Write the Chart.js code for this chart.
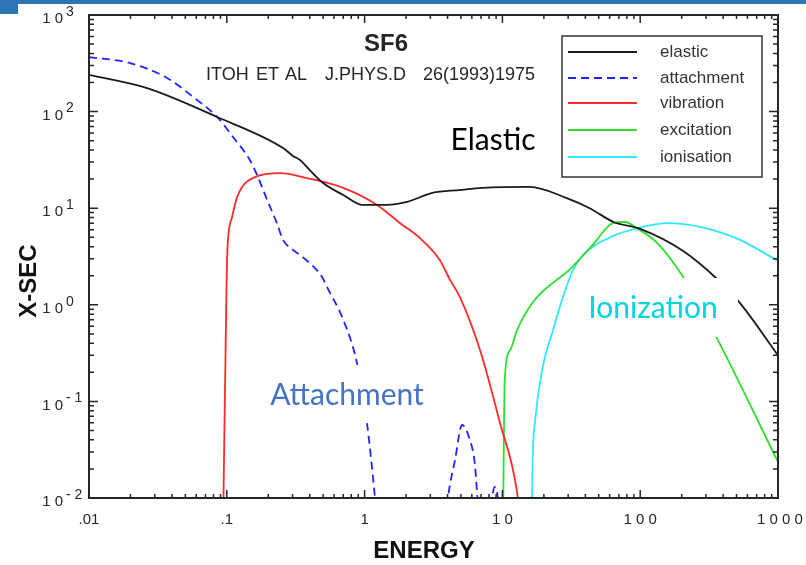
<!DOCTYPE html>
<html>
<head>
<meta charset="utf-8">
<script src="https://cdn.jsdelivr.net/npm/chart.js@4.4.1/dist/chart.umd.min.js"></script>
<style>
html, body { margin: 0; padding: 0; background: #fff; overflow: hidden; }
#wrap { position: relative; width: 806px; height: 565px; }
.bar { position: absolute; background: #2e75b6; }
</style>
</head>
<body>
<div id="wrap">
  <canvas id="c" width="806" height="565"></canvas>
  <div class="bar" style="left:0;top:0;width:806px;height:4px"></div>
  <div class="bar" style="left:0;top:0;width:18px;height:14px"></div>
</div>
<script>
// energies (eV) and cross sections
const elasticE = [0.01, 0.0264, 0.085, 0.256, 0.30, 0.34, 0.40, 0.50, 0.70, 0.97, 1.45, 2.03, 3.1, 4.9, 7.2, 15.8, 29, 43, 64, 100, 205, 361, 530, 1000];
const elasticS = [240, 175, 88, 42, 35, 31.5, 24.8, 18.2, 13.7, 10.8, 10.8, 11.6, 14.4, 15.4, 16.2, 16.6, 12.8, 10.0, 7.2, 6.1, 3.6, 1.85, 1.04, 0.30];

const attachE = [0.01, 0.0199, 0.0368, 0.0569, 0.085, 0.111, 0.147, 0.166, 0.196, 0.231, 0.256, 0.302, 0.357, 0.491, 0.533, 0.70, 0.88, 1.04, 1.19, 1.23, 2.0, 3.9, 4.03, 4.53, 5.1, 5.8, 6.3, 6.6, 6.8, 7.8, 8.2, 8.4, 8.8, 9.3, 9.5];
const attachS = [367, 318, 223, 142, 88, 54.6, 31.5, 22, 12.2, 7.0, 4.7, 3.7, 3.1, 1.94, 1.53, 0.70, 0.25, 0.060, 0.01, 0.006, null, 0.006, 0.01, 0.0247, 0.057, 0.040, 0.023, 0.01, 0.007, null, 0.006, 0.0095, 0.013, 0.0095, 0.006];

const vibE = [0.094, 0.0995, 0.101, 0.109, 0.12, 0.16, 0.244, 0.382, 0.70, 1.23, 1.81, 2.52, 3.52, 4.17, 4.92, 6.88, 9.6, 12.8, 13.4];
const vibS = [0.005, 1.5, 3.7, 8.0, 13.5, 21, 23.1, 20.5, 16.2, 10.8, 7.0, 4.9, 2.9, 1.81, 1.2, 0.34, 0.060, 0.0113, 0.006];

const excE = [10.1, 10.4, 11.4, 12.8, 16.7, 31.5, 45.4, 63.5, 77.6, 94.8, 132, 205, 361, 1000];
const excS = [0.005, 0.167, 0.34, 0.55, 1.07, 2.4, 4.2, 7.0, 7.2, 6.2, 4.4, 1.94, 0.45, 0.0236];

const ionE = [16.3, 16.6, 17.3, 19.4, 23.3, 27.5, 32.5, 38.5, 63.5, 94.8, 159, 272, 530, 1000];
const ionS = [0.005, 0.0265, 0.064, 0.211, 0.55, 1.2, 2.29, 3.28, 5.15, 6.2, 7.0, 6.4, 4.7, 2.84];

const seriesNames = ['elastic', 'attachment', 'vibration', 'excitation', 'ionisation'];
const seriesColors = ['#1a1a1a', '#2222ff', '#ff2a2a', '#2ee02e', '#2ee8ff'];

const xTickValues = [0.01, 0.1, 1, 10, 100, 1000];
const xTickLabels = ['.01', '.1', '1', '1 0', '1 0 0', '1 0 0 0'];
const yTickValues = [1000, 100, 10, 1, 0.1, 0.01];
const yTickExps = ['3', '2', '1', '0', '- 1', '- 2'];

function pts(E, S) { return E.map((e, i) => ({x: e, y: S[i]})); }

const allSeries = [[elasticE, elasticS], [attachE, attachS], [vibE, vibS], [excE, excS], [ionE, ionS]];

const datasets = allSeries.map(function(s, i) {
  return {
    label: seriesNames[i],
    data: pts(s[0], s[1]),
    borderColor: seriesColors[i],
    borderWidth: 1.8,
    borderDash: i === 1 ? [8, 5] : [],
    pointRadius: 0,
    fill: false,
    spanGaps: false,
    cubicInterpolationMode: 'monotone'
  };
});

const TXT = '#262626';
const SANS = '"Liberation Sans", Arial, sans-serif';

const decor = {
  id: 'decor',
  afterDatasetsDraw(chart) {
    const ctx = chart.ctx, a = chart.chartArea, xs = chart.scales.x, ys = chart.scales.y;
    ctx.save();

    // curve labels sitting on white patches
    const notes = [
      {t: 'Elastic', x: 493, y: 140, c: '#000000', box: [445, 122, 97, 36]},
      {t: 'Attachment', x: 347, y: 395, c: '#4472c4', box: [265, 365, 165, 55]},
      {t: 'Ionization', x: 653, y: 308, c: '#00d4dc', box: [575, 278, 163, 59]}
    ];
    ctx.font = '30px Lato, "Open Sans", sans-serif';
    ctx.textAlign = 'center';
    ctx.textBaseline = 'middle';
    notes.forEach(function(n) {
      ctx.fillStyle = '#ffffff';
      ctx.fillRect(n.box[0], n.box[1], n.box[2], n.box[3]);
      ctx.fillStyle = n.c;
      ctx.fillText(n.t, n.x, n.y);
    });

    // frame
    ctx.strokeStyle = TXT;
    ctx.lineWidth = 2;
    ctx.strokeRect(a.left, a.top, a.right - a.left, a.bottom - a.top);

    // inward ticks on all four sides
    ctx.lineWidth = 1.5;
    ctx.beginPath();
    for (let d = -2; d <= 3; d++) {
      for (let m = 1; m <= 9; m++) {
        const v = m * Math.pow(10, d);
        if (v > 1000.0001) break;
        const major = m === 1;
        const px = xs.getPixelForValue(v), py = ys.getPixelForValue(v);
        const lx = major ? 8 : 4, ly = major ? 9 : 5;
        ctx.moveTo(px, a.bottom); ctx.lineTo(px, a.bottom - lx);
        ctx.moveTo(px, a.top); ctx.lineTo(px, a.top + lx);
        ctx.moveTo(a.left, py); ctx.lineTo(a.left + ly, py);
        ctx.moveTo(a.right, py); ctx.lineTo(a.right - ly, py);
      }
    }
    ctx.stroke();

    // tick labels
    ctx.fillStyle = TXT;
    ctx.font = '15px ' + SANS;
    ctx.textAlign = 'center';
    ctx.textBaseline = 'middle';
    xTickValues.forEach(function(v, i) {
      ctx.fillText(xTickLabels[i], xs.getPixelForValue(v) + (i === 5 ? 2 : 0), a.bottom + 22);
    });
    yTickValues.forEach(function(v, i) {
      const py = ys.getPixelForValue(v);
      ctx.textAlign = 'right';
      ctx.font = '15px ' + SANS;
      ctx.fillText('1 0', 63, py + 4);
      ctx.textAlign = 'left';
      ctx.font = '14px ' + SANS;
      ctx.fillText(yTickExps[i], 66, py - 3);
    });

    // titles
    ctx.textAlign = 'center';
    ctx.font = 'bold 24px ' + SANS;
    ctx.fillText('SF6', 386, 44);
    ctx.font = '18px ' + SANS;
    ctx.textAlign = 'left';
    [['ITOH', 206], ['ET', 256], ['AL', 285], ['J.PHYS.D', 325], ['26(1993)1975', 423]].forEach(function(w) {
      ctx.fillText(w[0], w[1], 75);
    });
    ctx.textAlign = 'center';
    ctx.font = 'bold 24px ' + SANS;
    ctx.fillStyle = '#111';
    ctx.fillText('ENERGY', 424, 551);
    ctx.save();
    ctx.translate(29, 281);
    ctx.rotate(-Math.PI / 2);
    ctx.fillText('X-SEC', 0, 0);
    ctx.restore();

    // legend
    ctx.fillStyle = '#ffffff';
    ctx.fillRect(562, 36, 200, 141);
    ctx.strokeStyle = '#333';
    ctx.lineWidth = 1.5;
    ctx.strokeRect(562, 36, 200, 141);
    const rows = [52, 78, 103, 130, 157];
    chart.data.datasets.forEach(function(ds, i) {
      ctx.strokeStyle = ds.borderColor;
      ctx.lineWidth = 2;
      ctx.setLineDash(ds.borderDash);
      ctx.beginPath();
      ctx.moveTo(568, rows[i]);
      ctx.lineTo(637, rows[i]);
      ctx.stroke();
      ctx.setLineDash([]);
      ctx.fillStyle = '#333';
      ctx.font = '17px ' + SANS;
      ctx.textAlign = 'left';
      ctx.fillText(ds.label, 660, rows[i]);
    });

    ctx.restore();
  }
};

new Chart(document.getElementById('c').getContext('2d'), {
  type: 'line',
  data: {datasets: datasets},
  options: {
    responsive: false,
    animation: false,
    layout: {padding: {left: 89, right: 28, top: 15, bottom: 67}},
    plugins: {legend: {display: false}, tooltip: {enabled: false}},
    scales: {
      x: {type: 'logarithmic', min: 0.01, max: 1000, display: false},
      y: {type: 'logarithmic', min: 0.01, max: 1000, display: false}
    }
  },
  plugins: [decor]
});
</script>
</body>
</html>
